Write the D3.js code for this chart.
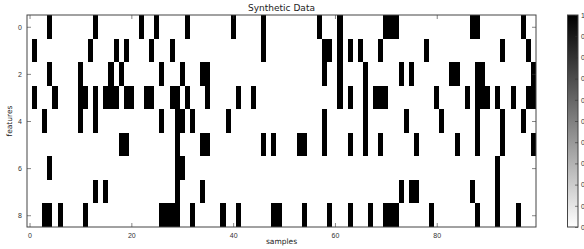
<!DOCTYPE html>
<html>
<head>
<meta charset="utf-8">
<script src="https://cdn.jsdelivr.net/npm/d3@7"></script>
<style>
  body { margin: 0; background: #fff; }
  svg { display: block; font-family: "DejaVu Sans", sans-serif; }
</style>
</head>
<body>
<svg id="heatmap" width="584" height="249"></svg>
<script>
"use strict";

// samples that are "on" (value 1) for each feature row, everything else is 0
var feature0 = [4, 13, 22, 25, 31, 40, 46, 57, 61, 70, 71, 72, 87, 88, 97];
var feature1 = [1, 12, 17, 19, 24, 28, 46, 58, 59, 61, 63, 65, 69, 78, 93, 98];
var feature2 = [4, 10, 16, 18, 26, 30, 34, 35, 58, 61, 66, 73, 75, 83, 84, 88, 89, 99];
var feature3 = [1, 5, 10, 11, 13, 15, 16, 17, 19, 20, 23, 24, 28, 29, 31, 35, 41, 44, 61, 63,
                66, 68, 69, 70, 80, 86, 88, 89, 90, 92, 95, 98, 99];
var feature4 = [3, 10, 13, 26, 29, 30, 32, 39, 58, 66, 74, 81, 88, 93, 97];
var feature5 = [18, 19, 29, 34, 35, 46, 48, 53, 54, 58, 63, 66, 69, 76, 84, 88, 93, 99];
var feature6 = [4, 29, 30, 92];
var feature7 = [13, 15, 29, 34, 73, 75, 76, 87, 92];
var feature8 = [3, 4, 6, 11, 26, 27, 28, 29, 32, 38, 41, 48, 49, 54, 59, 63, 67, 70, 71, 72,
                79, 88, 92, 96];

var nSamples = 100;
var xTicks = [0, 20, 40, 60, 80];
var yTicks = [0, 2, 4, 6, 8];
var cbTicks = [0.0, 0.1, 0.2, 0.3, 0.4, 0.5, 0.6, 0.7, 0.8, 0.9, 1.0];

var rows = [feature0, feature1, feature2, feature3, feature4, feature5, feature6, feature7, feature8];

// build the cell table from the row lists
var cells = [];
rows.forEach(function(on, r) {
  for (var c = 0; c < nSamples; c++) {
    cells.push({row: r, col: c, value: on.indexOf(c) >= 0 ? 1 : 0});
  }
});

var svg = d3.select("#heatmap"),
    plot = {left: 27, right: 536, top: 15, bottom: 227};

var x = d3.scaleLinear().domain([-0.5, nSamples - 0.5]).range([plot.left, plot.right]);
var y = d3.scaleLinear().domain([-0.5, rows.length - 0.5]).range([plot.top, plot.bottom]);
var color = d3.scaleLinear().domain([0, 1]).range(["#ffffff", "#000000"]);

svg.append("g")
  .selectAll("rect")
  .data(cells)
  .enter().append("rect")
    .attr("x", function(d) { return x(d.col - 0.5); })
    .attr("y", function(d) { return y(d.row - 0.5); })
    .attr("width", x(1) - x(0) + 0.3)
    .attr("height", y(1) - y(0) + 0.3)
    .attr("fill", function(d) { return color(d.value); })
    .attr("shape-rendering", "crispEdges");

// axes, matplotlib classic style: ticks point inward, mirrored on top/right
function styleAxis(g) {
  g.select(".domain").remove();
  g.selectAll(".tick line").attr("stroke", "#333").attr("stroke-width", 0.6);
  g.selectAll(".tick text").attr("fill", "#333").style("font-size", "7px");
}

svg.append("g")
    .attr("transform", "translate(0," + plot.bottom + ")")
    .call(d3.axisBottom(x).tickValues(xTicks).tickSizeInner(-4).tickPadding(6).tickFormat(d3.format("d")))
    .call(styleAxis);

svg.append("g")
    .attr("transform", "translate(0," + plot.top + ")")
    .call(d3.axisTop(x).tickValues(xTicks).tickSizeInner(-4).tickFormat(""))
    .call(styleAxis);

svg.append("g")
    .attr("transform", "translate(" + plot.left + ",0)")
    .call(d3.axisLeft(y).tickValues(yTicks).tickSizeInner(-4).tickPadding(5).tickFormat(d3.format("d")))
    .call(styleAxis);

svg.append("g")
    .attr("transform", "translate(" + plot.right + ",0)")
    .call(d3.axisRight(y).tickValues(yTicks).tickSizeInner(-4).tickFormat(""))
    .call(styleAxis);

svg.append("rect")
    .attr("x", plot.left)
    .attr("y", plot.top)
    .attr("width", plot.right - plot.left)
    .attr("height", plot.bottom - plot.top)
    .attr("fill", "none")
    .attr("stroke", "#444")
    .attr("stroke-width", 1);

svg.append("text")
    .attr("x", (plot.left + plot.right) / 2)
    .attr("y", 11)
    .attr("text-anchor", "middle")
    .style("font-size", "9px")
    .attr("fill", "#222")
    .text("Synthetic Data");

svg.append("text")
    .attr("x", (plot.left + plot.right) / 2)
    .attr("y", 244)
    .attr("text-anchor", "middle")
    .style("font-size", "7.5px")
    .attr("fill", "#222")
    .text("samples");

svg.append("text")
    .attr("transform", "translate(12," + (plot.top + plot.bottom) / 2 + ") rotate(-90)")
    .attr("text-anchor", "middle")
    .style("font-size", "7.5px")
    .attr("fill", "#222")
    .text("features");

// colorbar
var cb = {left: 567.5, right: 578, top: 15, bottom: 227};
var cbScale = d3.scaleLinear().domain([0, 1]).range([cb.bottom, cb.top]);

var grad = svg.append("defs").append("linearGradient")
    .attr("id", "cbgrad")
    .attr("x1", 0).attr("y1", 1).attr("x2", 0).attr("y2", 0);
grad.selectAll("stop")
  .data([0, 1])
  .enter().append("stop")
    .attr("offset", function(d) { return d; })
    .attr("stop-color", function(d) { return color(d); });

svg.append("rect")
    .attr("x", cb.left)
    .attr("y", cb.top)
    .attr("width", cb.right - cb.left)
    .attr("height", cb.bottom - cb.top)
    .attr("fill", "url(#cbgrad)")
    .attr("stroke", "#444")
    .attr("stroke-width", 1);

svg.append("g")
    .attr("transform", "translate(" + cb.right + ",0)")
    .call(d3.axisRight(cbScale).tickValues(cbTicks).tickSizeInner(-3).tickPadding(3).tickFormat(d3.format(".1f")))
    .call(styleAxis);
</script>
</body>
</html>
